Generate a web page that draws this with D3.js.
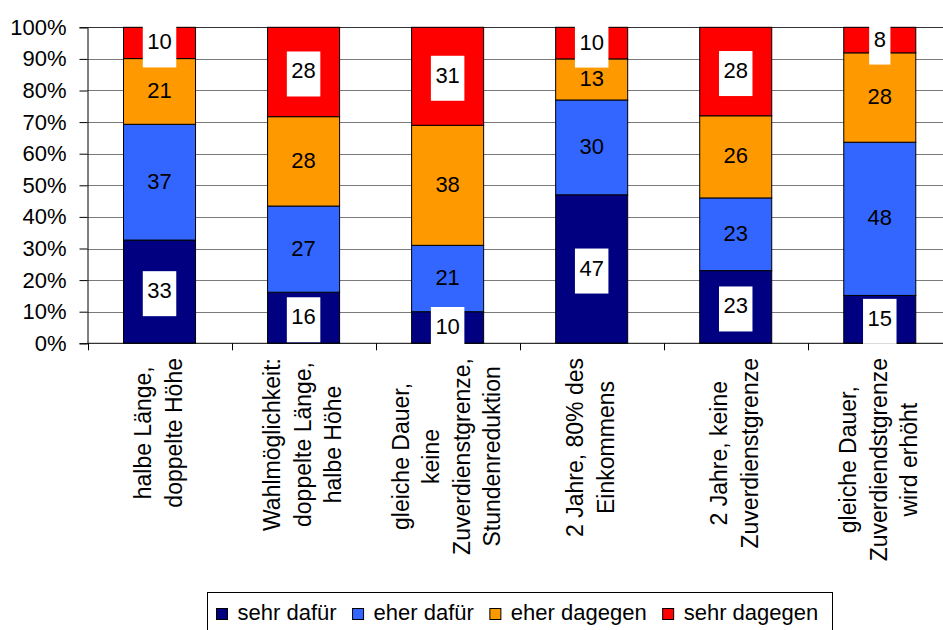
<!DOCTYPE html>
<html>
<head>
<meta charset="utf-8">
<script src="https://cdn.jsdelivr.net/npm/d3@7"></script>
<style>
  html, body { margin: 0; padding: 0; background: #fff; }
  svg { display: block; }
  text { font-family: "Liberation Sans", Arial, sans-serif; fill: #000; }
</style>
</head>
<body>
<svg id="chart" width="943" height="630"></svg>
<script>
// ---- data ----
const categories = [
  ["halbe Länge,", "doppelte Höhe"],
  ["Wahlmöglichkeit:", "doppelte Länge,", "halbe Höhe"],
  ["gleiche Dauer,", "keine", "Zuverdienstgrenze,", "Stundenreduktion"],
  ["2 Jahre, 80% des", "Einkommens"],
  ["2 Jahre, keine", "Zuverdienstgrenze"],
  ["gleiche Dauer,", "Zuverdiendstgrenze", "wird erhöht"]
];
const seriesNames = ["sehr dafür", "eher dafür", "eher dagegen", "sehr dagegen"];
const sehrDafuer   = [33, 16, 10, 47, 23, 15];
const eherDafuer   = [37, 27, 21, 30, 23, 48];
const eherDagegen  = [21, 28, 38, 13, 26, 28];
const sehrDagegen  = [10, 28, 31, 10, 28, 8];
const seriesColors = ["#000080", "#3366FF", "#FF9900", "#FF0000"];
const yTicks = [0, 0.1, 0.2, 0.3, 0.4, 0.5, 0.6, 0.7, 0.8, 0.9, 1.0];

(function () {
// ---- build ----
const seriesValues = [sehrDafuer, eherDafuer, eherDagegen, sehrDagegen];
const catKeys = categories.map((c, i) => "c" + i);
const rows = catKeys.map((k, i) => {
  const r = { key: k };
  seriesNames.forEach((s, j) => r[s] = seriesValues[j][i]);
  return r;
});
const stack = d3.stack().keys(seriesNames).offset(d3.stackOffsetExpand);
const stacked = stack(rows);

const svg = d3.select("#chart");
const pLeft = 87.5, pRight = 951.8, pTop = 27.3, pBottom = 343.3;

const x = d3.scaleBand().domain(catKeys).range([pLeft, pRight]).paddingInner(0.5).paddingOuter(0.25);
const step = x.step();
const y = d3.scaleLinear().domain([0, 1]).range([pBottom, pTop]);

// gridlines
svg.append("g").selectAll("line").data(yTicks.filter(t => t > 0)).join("line")
  .attr("x1", pLeft).attr("x2", 943)
  .attr("y1", d => Math.round(y(d)) + 0.5).attr("y2", d => Math.round(y(d)) + 0.5)
  .attr("stroke", d => d === 1 ? "#333" : "#7a7a7a").attr("stroke-width", 1);

// bars
const barG = svg.append("g");
stacked.forEach((s, j) => {
  barG.append("g").selectAll("rect").data(s).join("rect")
    .attr("x", (d, i) => x(catKeys[i]))
    .attr("width", x.bandwidth())
    .attr("y", d => y(d[1]))
    .attr("height", d => y(d[0]) - y(d[1]))
    .attr("fill", seriesColors[j])
    .attr("stroke", "#000")
    .attr("stroke-width", 1);
});

// y axis
const yAxis = d3.axisLeft(y).tickValues(yTicks).tickFormat(d3.format(".0%")).tickSize(8).tickPadding(13);
const yAxisG = svg.append("g").attr("transform", `translate(${pLeft},0)`).call(yAxis);
yAxisG.select(".domain").attr("stroke", "#000");
yAxisG.selectAll(".tick line").attr("stroke", "#000");
yAxisG.selectAll(".tick text")
  .style("font-family", '"Liberation Sans", Arial, sans-serif')
  .style("font-size", "22px").attr("fill", "#000");

// x axis: line + ticks at boundaries
svg.append("line").attr("x1", pLeft).attr("x2", 943)
  .attr("y1", pBottom).attr("y2", pBottom).attr("stroke", "#000").attr("stroke-width", 1);
const boundaries = d3.range(0, categories.length).map(i => x(catKeys[i]) - step * 0.25);
svg.append("g").selectAll("line").data(boundaries).join("line")
  .attr("x1", d => Math.round(d) + 0.5).attr("x2", d => Math.round(d) + 0.5)
  .attr("y1", pBottom).attr("y2", pBottom + 7)
  .attr("stroke", "#000").attr("stroke-width", 1);

// data labels
const labG = svg.append("g");
stacked.forEach((s, j) => {
  s.forEach((d, i) => {
    const cx = x(catKeys[i]) + x.bandwidth() / 2;
    const cy = (y(d[0]) + y(d[1])) / 2;
    const val = seriesValues[j][i];
    const t = labG.append("text")
      .attr("x", cx).attr("y", cy + 6.5)
      .attr("text-anchor", "middle")
      .style("font-size", "22px")
      .text(val);
    if (j === 0 || j === 3) {
      const w = t.node().getComputedTextLength();
      labG.insert("rect", () => t.node())
        .attr("x", cx - w / 2 - 4.5).attr("width", w + 9)
        .attr("y", cy - 20.5).attr("height", 45)
        .attr("fill", "#fff");
    }
  });
});

// category labels (rotated, centered lines, block top anchored)
const lh = 30.5, catTop = 358;
categories.forEach((lines, i) => {
  const cx = x(catKeys[i]) + x.bandwidth() / 2;
  const g = svg.append("g").attr("transform", `translate(${cx},${catTop}) rotate(-90)`);
  const texts = lines.map((ln, k) => g.append("text")
    .attr("text-anchor", "middle")
    .attr("y", (k - (lines.length - 1) / 2) * lh + 7)
    .style("font-size", "23px")
    .text(ln));
  const maxLen = d3.max(texts, t => t.node().getComputedTextLength());
  texts.forEach(t => t.attr("x", -maxLen / 2));
});

// legend
const legG = svg.append("g");
legG.append("rect").attr("x", 207.5).attr("y", 592.5).attr("width", 625).attr("height", 50)
  .attr("fill", "#fff").attr("stroke", "#000").attr("stroke-width", 1);
let lx = 216;
seriesNames.forEach((name, j) => {
  legG.append("rect").attr("x", lx + 0.5).attr("y", 608.5).attr("width", 11).attr("height", 11)
    .attr("fill", seriesColors[j]).attr("stroke", "#000").attr("stroke-width", 1);
  const t = legG.append("text").attr("x", lx + 21.5).attr("y", 620)
    .style("font-size", "22px").text(name);
  lx = lx + 21.5 + t.node().getComputedTextLength() + 15.5;
});
})();
</script>
</body>
</html>
